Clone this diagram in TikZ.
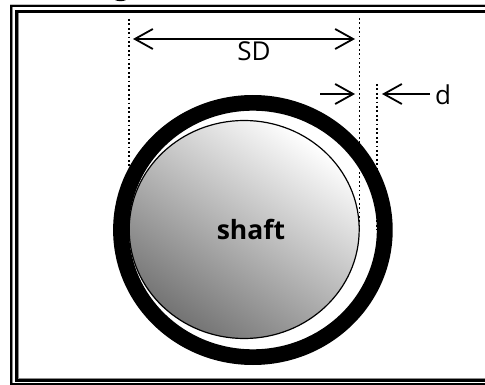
\documentclass[tikz,border=0pt]{standalone}
\usepackage{fontspec}
\setmainfont{Open Sans}
\usetikzlibrary{arrows.meta}
\tikzset{
  x=1pt,y=-1pt,
  dim/.style={line width=1.8pt,-{Straight Barb[length=18pt,width=20pt,line width=1.8pt]}},
  guide/.style={line width=1.3pt,dash pattern=on 1.8pt off 2.6pt},
  framehi/.style={draw=black!45,line width=1pt},
  lab/.style={inner sep=0pt,font=\fontsize{26}{26}\selectfont},
}
\begin{document}
\begin{tikzpicture}
\useasboundingbox (0,0) rectangle (485,385);
\fill[white] (0,0) rectangle (485,385);
% frame
\draw[framehi,black!25] (10,4.5) -- (485,4.5);
\draw[framehi] (12.5,7) -- (12.5,383);
\draw[framehi] (18.5,13) -- (18.5,378.5) -- (485,378.5);
\draw[black,line width=2pt] (490,6) -- (11,6) -- (11,384) -- (490,384);
\draw[black,line width=3pt] (490,11.2) -- (16.5,11.2) -- (16.5,380) -- (490,380);
\fill (115,0) .. controls (118,1.6) and (123,1.6) .. (126,0) -- cycle;
% ring
\fill[black,even odd rule] (252.9,230) ellipse [x radius=139.8,y radius=135]
     (252.9,230) ellipse [x radius=123.9,y radius=119.3];
% shaft
\shade[top color=white,bottom color=black!55,shading angle=-35]
   (244.2,229.5) ellipse [x radius=115,y radius=109];
\draw[black,line width=1.2pt] (244.2,229.5) ellipse [x radius=115,y radius=109];
\node[inner sep=0pt,font=\fontsize{26.5}{26.5}\selectfont\bfseries] (shaft) at (251,229) {shaft};
% guides
\coordinate (gla) at (129,19);  \coordinate (glb) at (129,230);
\coordinate (gra) at (359.5,18);\coordinate (grb) at (359.5,228);
\coordinate (gda) at (377,84);  \coordinate (gdb) at (377,230);
\draw[guide] (gla) -- (glb);
\draw[guide] (gra) -- (grb);
\draw[guide] (gda) -- (gdb);
% dimensions
\coordinate (sdl) at (133,39); \coordinate (sdr) at (355,39);
\coordinate (dla) at (320,94); \coordinate (dlb) at (355,94);
\coordinate (dra) at (430,94); \coordinate (drb) at (382,94);
\draw[dim,{Straight Barb[length=18pt,width=20pt,line width=1.8pt]}-{Straight Barb[length=18pt,width=20pt,line width=1.8pt]}] (sdl) -- (sdr);
\draw[dim] (dla) -- (dlb);
\draw[dim] (dra) -- (drb);
\node[lab,anchor=base] (sd) at (254,61) {SD};
\node[lab,anchor=base west] (dd) at (435,105) {d};
\end{tikzpicture}
\end{document}
